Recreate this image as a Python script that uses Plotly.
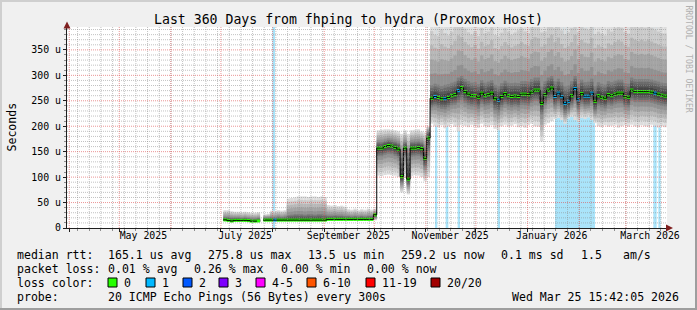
import numpy as np
import pandas as pd
import plotly.graph_objects as go
from datetime import datetime, timedelta

# ---------------- data ----------------
END = datetime(2026, 3, 25, 15, 42, 5)
SPAN_DAYS = 360
BIN_START = datetime(2025, 7, 2, 12, 0)   # first RRD bin shown
BIN_DAYS = 2

# segment A: early July .. end of September (median ~15 us)
median_a = [16, 15, 13.8, 15, 15, 15, 15, 14.5, 13.5, 13.5, 13.8, None,
            15.5, 15.5, 15.5, 15.5, 15.5, 15.5, 15.5, 15.5, 15.5, 15.5, 15.5, 15.5, 15.5, 15.5, 15.5, 15.5, 15.5, 15.5, 15.5,
            17, 17, 17, 17, 17, 17, 17, 17, 17, 17, 17, 17, 17, 17, 26]
low_a = [13, 12.5, 11.5, 12.5, 12.5, 12.5, 12.5, 12, 11.5, 11.5, 11.5, None,
         13, 13, 13, 13, 13, 13, 13, 13, 13, 13, 13, 13, 13, 13, 13, 13, 13, 13, 13,
         14.5, 14.5, 14.5, 14.5, 14.5, 14.5, 14.5, 14.5, 14.5, 14.5, 14.5, 14.5, 14.5, 14.5, 15]
q1_a = [15, 14.2, 13.2, 14.3, 14.3, 14.3, 14.3, 13.8, 12.9, 12.9, 13.2, None,
        14.8, 14.8, 14.8, 14.8, 14.8, 14.8, 14.8, 14.8, 14.8, 14.8, 14.8, 14.8, 14.8, 14.8, 14.8, 14.8, 14.8, 14.8, 14.8,
        16.3, 16.3, 16.3, 16.3, 16.3, 16.3, 16.3, 16.3, 16.3, 16.3, 16.3, 16.3, 16.3, 16.3, 20]
q3_a = [22, 22, 21, 21, 21, 20, 21, 20, 19, 19, 20, None,
        21, 21, 22, 22, 23, 22, 23, 26, 27, 28, 28, 28, 27, 28, 28, 27, 28, 28, 27,
        25, 25, 26, 25, 25, 24, 24, 23, 24, 23, 24, 23, 24, 24, 30]
high_a = [35, 35, 33, 32, 32, 31, 32, 31, 30, 30, 31, None,
          27, 28, 34, 34, 35, 34, 35, 58, 59, 60, 62, 62, 62, 61, 62, 62, 61, 62, 61,
          45, 44, 45, 43, 44, 42, 37, 36, 38, 35, 37, 36, 38, 36, 38]
loss_a = [0] * 15 + [1] + [0] * 30

# segment B: October (median ~160 us)
median_b = [157, 157, 160, 162, 161, 158.5, 155, 101, 157, 96, 157, 157, 158, 156, 137, 177]
low_b = [103, 102, 104, 105, 104, 103, 100, 70, 98, 66, 102, 104, 103, 100, 92, 100]
q1_b = [140, 140, 143, 145, 144, 141, 137, 88, 138, 84, 139, 140, 141, 138, 118, 150]
q3_b = [170, 170, 172, 174, 173, 171, 168, 150, 170, 150, 170, 171, 171, 169, 160, 190]
high_b = [192, 193, 194, 194, 193, 192, 190, 185, 192, 185, 192, 193, 194, 190, 188, 200]
loss_b = [0] * 16

# segment C: November .. March (median ~260 us)
median_c = [255, 258.5, 256.6, 254, 254, 256.6, 260, 262, 270, 275.8,
            268, 263, 260, 260, 257, 265, 260, 262, 265, 254,
            251, 258.5, 264, 260, 258.5, 259.5, 258.5, 263, 263, 262,
            267, 271, 271, 245, 262, 271, 275, 258.5, 265, 258,
            245, 249, 260, 274, 252, 264, 259, 259, 265, 249,
            260, 257, 255, 262, 260, 263, 265, 265, 258, 257,
            271, 268, 268, 268, 268, 268, 267, 265, 263, 261,
            259.2, 259.2]
low_c = [205, 200, 198, 202, 196, 200, 204, 199, 190, 203,
         201, 198, 203, 200, 197, 205, 200, 198, 202, 195,
         192, 200, 203, 199, 201, 204, 198, 200, 197, 202,
         205, 200, 199, 170, 203, 206, 210, 214, 216, 212,
         205, 215, 218, 212, 208, 216, 214, 217, 212, 206,
         200, 198, 202, 199, 201, 203, 197, 200, 202, 199,
         203, 200, 198, 202, 200, 199, 203, 201, 197, 200,
         198, 200]
q1_c = [236, 238, 235, 233, 232, 236, 240, 241, 245, 250,
        244, 240, 238, 237, 233, 243, 238, 240, 243, 230,
        226, 236, 242, 238, 236, 238, 236, 241, 240, 239,
        245, 249, 248, 222, 240, 250, 252, 238, 244, 236,
        225, 230, 240, 250, 232, 243, 238, 239, 245, 228,
        239, 236, 234, 241, 239, 242, 244, 244, 237, 236,
        249, 246, 246, 246, 246, 246, 245, 243, 241, 239,
        238, 238]
q3_c = [282, 285, 283, 280, 283, 284, 287, 289, 297, 300,
        294, 290, 287, 288, 284, 292, 287, 289, 292, 283,
        280, 286, 291, 287, 286, 287, 286, 290, 290, 289,
        294, 297, 297, 280, 290, 297, 300, 290, 295, 288,
        280, 282, 290, 300, 285, 293, 288, 289, 295, 280,
        288, 285, 283, 290, 288, 291, 293, 293, 286, 285,
        297, 294, 294, 294, 294, 294, 293, 291, 289, 287,
        286, 286]
high_c = [415, 405, 402, 420, 410, 404, 412, 425, 438, 430,
          418, 410, 405, 412, 402, 420, 408, 412, 425, 405,
          402, 410, 420, 412, 405, 410, 416, 420, 412, 408,
          425, 432, 428, 412, 412, 430, 438, 420, 432, 415,
          408, 412, 420, 438, 412, 425, 420, 416, 430, 408,
          412, 408, 404, 416, 412, 420, 425, 420, 412, 408,
          430, 425, 420, 425, 420, 425, 420, 416, 412, 408,
          408, 404]
loss_c = [0, 1, 0, 0, 1, 0, 0, 0, 1, 0,
          0, 0, 0, 0, 0, 0, 0, 0, 0, 0,
          1, 0, 0, 0, 0, 0, 0, 0, 0, 0,
          0, 0, 0, 0, 0, 0, 0, 1, 1, 1,
          1, 1, 0, 1, 1, 0, 1, 1, 1, 0,
          0, 0, 0, 0, 0, 0, 0, 0, 0, 0,
          0, 0, 0, 0, 0, 0, 0, 1, 0, 0,
          0, 0]

# periods with packet loss (light blue background)
loss_start = ["2025-07-31 20:30", "2025-11-06 11:00", "2025-11-12 20:30", "2025-11-20 01:00",
              "2025-12-14 01:00", "2026-01-17 11:00", "2026-03-17 11:00", "2026-03-20 11:00"]
loss_end = ["2025-08-02 11:00", "2025-11-07 20:30", "2025-11-14 11:00", "2025-11-21 11:00",
            "2025-12-15 11:00", "2026-02-10 11:00", "2026-03-19 11:00", "2026-03-21 20:30"]

loss_labels = ["0", "1", "2", "3", "4-5", "6-10", "11-19", "20/20"]
loss_colors = ["#26ff00", "#00b8ff", "#0059ff", "#7e00ff", "#ff00ff", "#ff5500", "#ff0000", "#a10000"]

month_labels = ["May 2025", "July 2025", "September 2025", "November 2025", "January 2026", "March 2026"]
month_label_dates = ["2025-05-15 12:00", "2025-07-15 12:00", "2025-09-15 12:00",
                     "2025-11-15 12:00", "2026-01-15 12:00", "2026-03-15 12:00"]
y_tickvals = [0, 50, 100, 150, 200, 250, 300, 350]
y_ticktext = ["0", "50 u", "100 u", "150 u", "200 u", "250 u", "300 u", "350 u"]

title_text = "Last 360 Days from fhping to hydra (Proxmox Host)"
legend_rtt = ["median rtt:", "165.1 us avg", "275.8 us max", "13.5 us min", "259.2 us now",
              "0.1 ms sd", "1.5", "am/s"]
legend_loss = ["packet loss:", "0.01 % avg", "0.26 % max", "0.00 % min", "0.00 % now"]
legend_probe = ["probe:", "20 ICMP Echo Pings (56 Bytes) every 300s"]
stamp_text = "Wed Mar 25 15:42:05 2026"

# ---------------- geometry / style ----------------
W, H = 697, 310
ML, MR, MT, MB = 67, 30, 27, 82
PW, PH = W - ML - MR, H - MT - MB
Y_MAX = 395
FONT = "DejaVu Sans Mono"
AXIS_COL = "#1f1f1f"
ARROW_COL = "#7f1f1f"
MGRID_COL = "rgba(222,80,80,0.6)"
GRID_COL = "rgba(143,143,143,0.55)"
LOSS_BG = "#aae4fa"


def px(x):
    return (x - ML) / PW


def py(y):
    return (MT + PH - y) / PH


x_start = END - timedelta(days=SPAN_DAYS)

median = median_a + median_b + median_c
low = low_a + low_b + low_c
q1 = q1_a + q1_b + q1_c
q3 = q3_a + q3_b + q3_c
high = high_a + high_b + high_c
loss = loss_a + loss_b + loss_c
n = len(median)
bin_starts = [BIN_START + timedelta(days=BIN_DAYS * k) for k in range(n)]
bin_centers = [b + timedelta(days=BIN_DAYS / 2) for b in bin_starts]
bin_ms = BIN_DAYS * 86400 * 1000

fig = go.Figure()

# loss background bars
ls = pd.to_datetime(loss_start)
le = pd.to_datetime(loss_end)
fig.add_trace(go.Bar(
    x=list(ls + (le - ls) / 2), y=[Y_MAX] * len(ls), base=0,
    width=[(e - s).total_seconds() * 1000 for s, e in zip(ls, le)],
    marker=dict(color=LOSS_BG, line=dict(width=0)), hoverinfo="skip"))

# smoke: 10 layers like smokeping (outer light -> inner dark)
pings = 20
half = pings // 2
for i in range(1, half + 1):
    p_lo = (i - 1) / (pings - 1)
    p_hi = (pings - i) / (pings - 1)
    bases, heights = [], []
    for k in range(n):
        if median[k] is None:
            bases.append(None)
            heights.append(None)
            continue
        knots = [low[k], q1[k], median[k], q3[k], high[k]]
        b = float(np.interp(p_lo, [0, .25, .5, .75, 1], knots))
        t = float(np.interp(p_hi, [0, .25, .5, .75, 1], knots))
        bases.append(b)
        heights.append(t - b)
    g = int(190 / half * (half - i)) + 50
    fig.add_trace(go.Bar(
        x=bin_centers, y=heights, base=bases, width=bin_ms,
        marker=dict(color=f"rgb({g},{g},{g})", line=dict(width=0)), hoverinfo="skip"))

# thin black median connector (step line)
fig.add_trace(go.Scatter(
    x=bin_starts + [bin_starts[-1] + timedelta(days=BIN_DAYS)],
    y=median + [median[-1]], mode="lines", line=dict(color="#000000", width=1, shape="hv"),
    connectgaps=False, hoverinfo="skip"))

# median coloured by loss
MED_H = 6
fig.add_trace(go.Bar(
    x=bin_centers,
    y=[MED_H if m is not None else None for m in median],
    base=[m - MED_H / 2 if m is not None else None for m in median],
    width=bin_ms,
    marker=dict(color=[loss_colors[l] for l in loss], line=dict(width=0)), hoverinfo="skip"))

# dummy trace to carry the label axis
fig.add_trace(go.Scatter(x=[x_start], y=[None], xaxis="x2", mode="markers",
                         marker=dict(opacity=0), hoverinfo="skip"))

# ---------------- grid (drawn on top, like rrdtool) ----------------
shapes = []
wk = datetime(x_start.year, x_start.month, x_start.day) + timedelta(days=(6 - x_start.weekday()) % 7 or 7)
weeks = []
while wk < END:
    weeks.append(wk)
    wk += timedelta(days=7)
months = []
mY, mM = x_start.year, x_start.month + 1
while True:
    if mM > 12:
        mY, mM = mY + 1, 1
    d = datetime(mY, mM, 1)
    if d >= END:
        break
    months.append(d)
    mM += 1
for d in weeks:
    shapes.append(dict(type="line", xref="x", yref="paper", x0=d, x1=d, y0=0, y1=1, layer="above",
                       line=dict(color=GRID_COL, width=1, dash="1px,1px")))
for v in range(10, Y_MAX, 10):
    if v % 50:
        shapes.append(dict(type="line", xref="paper", yref="y", x0=0, x1=1, y0=v, y1=v, layer="above",
                           line=dict(color=GRID_COL, width=1, dash="1px,1px")))
for d in months:
    shapes.append(dict(type="line", xref="x", yref="paper", x0=d, x1=d, y0=0, y1=1, layer="above",
                       line=dict(color=MGRID_COL, width=1, dash="1px,1px")))
for v in y_tickvals[1:]:
    shapes.append(dict(type="line", xref="paper", yref="y", x0=0, x1=1, y0=v, y1=v, layer="above",
                       line=dict(color=MGRID_COL, width=1, dash="1px,1px")))

# axis arrows
shapes.append(dict(type="path", xref="paper", yref="paper", layer="above",
                   path=f"M {px(63.5)},{py(28.5)} L {px(70.5)},{py(28.5)} L {px(67)},{py(21.5)} Z",
                   fillcolor=ARROW_COL, line=dict(width=0)))
shapes.append(dict(type="path", xref="paper", yref="paper", layer="above",
                   path=f"M {px(666)},{py(224.5)} L {px(666)},{py(231.5)} L {px(673)},{py(228)} Z",
                   fillcolor=ARROW_COL, line=dict(width=0)))

# 3D frame
for (x0, x1, y0, y1, c) in [(0, W, 0, 2, "#cfcfcf"), (0, 2, 0, H, "#cfcfcf"),
                            (0, W, H - 2, H, "#9e9e9e"), (W - 2, W, 0, H, "#9e9e9e")]:
    shapes.append(dict(type="rect", xref="paper", yref="paper", layer="above",
                       x0=px(x0), x1=px(x1), y0=py(y1), y1=py(y0), fillcolor=c, line=dict(width=0)))

# legend colour boxes
box_x = [108, 146, 183, 219, 256, 307, 366, 431]
for bx, c in zip(box_x, loss_colors):
    shapes.append(dict(type="rect", xref="paper", yref="paper", layer="above",
                       x0=px(bx), x1=px(bx + 9), y0=py(287), y1=py(278),
                       fillcolor=c, line=dict(color="#000000", width=1)))

# ---------------- texts ----------------
ann = []


def text(t, x, y, size=11.56, anchor="left", color="#000000", angle=0):
    ann.append(dict(text=t, x=px(x), y=py(y), xref="paper", yref="paper", showarrow=False,
                    xanchor=anchor, yanchor="middle", textangle=angle, borderpad=0,
                    font=dict(family=FONT, size=size, color=color)))


text(title_text, 348.5, 19.5, size=13.2, anchor="center")
text("Seconds", 11, 127.5, size=11.56, anchor="center", angle=-90)
text("RRDTOOL / TOBI OETIKER", 688.5, 59, size=8.1, anchor="center", color="#b0b0b0", angle=90)

for t, x in zip(legend_rtt, [16, 107.3, 207.3, 307.3, 400.4, 500.4, 579.6, 621.7]):
    text(t, x, 254.8)
for t, x in zip(legend_loss, [16, 107.3, 193.4, 279.5, 365.6]):
    text(t, x, 268.6)
text("loss color:", 16, 282.6)
for bx, lab in zip(box_x, loss_labels):
    text(lab, bx + 15, 282.6)
for t, x in zip(legend_probe, [16, 107.3]):
    text(t, x, 296.6)
text(stamp_text, 680, 296.6, anchor="right")

fig.update_layout(
    width=W, height=H, margin=dict(l=ML, r=MR, t=MT, b=MB, pad=0),
    paper_bgcolor="#f0f0f0", plot_bgcolor="#ffffff",
    barmode="overlay", showlegend=False, template="none",
    font=dict(family=FONT, size=10, color="#000000"),
    shapes=shapes, annotations=ann,
    xaxis=dict(type="date", range=[x_start, END], showgrid=False, zeroline=False,
               showline=True, linecolor=AXIS_COL, linewidth=1,
               tickmode="array", tickvals=months, ticktext=[""] * len(months),
               ticks="outside", ticklen=3, tickcolor=AXIS_COL, showticklabels=False,
               minor=dict(tickmode="array", tickvals=weeks, ticks="outside", ticklen=2,
                          tickcolor="#8f8f8f", showgrid=False)),
    xaxis2=dict(type="date", range=[x_start, END], overlaying="x", anchor="y", side="bottom",
                showgrid=False, zeroline=False, showline=False, ticks="",
                tickmode="array", tickvals=month_label_dates, ticktext=month_labels,
                tickfont=dict(family=FONT, size=9.9, color="#000000")),
    yaxis=dict(range=[0, Y_MAX], showgrid=False, zeroline=False,
               showline=True, linecolor=AXIS_COL, linewidth=1,
               tickmode="array", tickvals=y_tickvals, ticktext=y_ticktext,
               ticks="outside", ticklen=3, tickcolor=AXIS_COL,
               tickfont=dict(family=FONT, size=9.9, color="#000000"),
               minor=dict(tickmode="linear", tick0=0, dtick=10, ticks="outside", ticklen=2,
                          tickcolor="#8f8f8f", showgrid=False)),
)

fig.write_html("out.html", config={"displayModeBar": False})
